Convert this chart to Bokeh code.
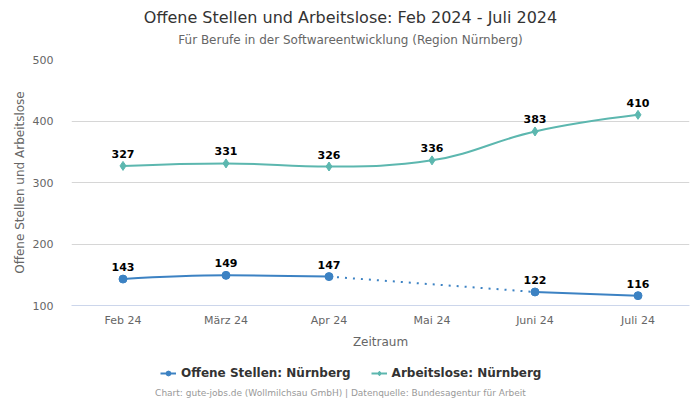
from bokeh.plotting import figure
from bokeh.models import (Range1d, FixedTicker, Legend, LegendItem, ColumnDataSource, Label)
from bokeh.layouts import column
from bokeh.embed import file_html
from bokeh.resources import INLINE
from bokeh.core.properties import value

months = ["Feb 24", "März 24", "Apr 24", "Mai 24", "Juni 24", "Juli 24"]
offene = [143, 149, 147, None, 122, 116]
arbeitslose = [327, 331, 326, 336, 383, 410]
y_ticks = [100, 200, 300, 400, 500]

BLUE = "#3c82c3"
TEAL = "#5cb7af"
FONT = "DejaVu Sans"
W = 700
LEFT = 71
RIGHT = 11
H0 = 50
H1 = 301
H2 = 49


def spline(xs, ys, s=1.5):
    n = len(xs)
    lc = [None] * n
    rc = [None] * n
    for i in range(1, n - 1):
        px, py = xs[i - 1], ys[i - 1]
        x, y = xs[i], ys[i]
        nx, ny = xs[i + 1], ys[i + 1]
        d = s + 1
        lcx, lcy = (s * x + px) / d, (s * y + py) / d
        rcx, rcy = (s * x + nx) / d, (s * y + ny) / d
        if rcx != lcx:
            corr = ((rcy - lcy) * (rcx - x)) / (rcx - lcx) + y - rcy
            lcy += corr
            rcy += corr
        if lcy > py and lcy > y:
            lcy = max(py, y); rcy = 2 * y - lcy
        elif lcy < py and lcy < y:
            lcy = min(py, y); rcy = 2 * y - lcy
        if rcy > ny and rcy > y:
            rcy = max(ny, y); lcy = 2 * y - rcy
        elif rcy < ny and rcy < y:
            rcy = min(ny, y); lcy = 2 * y - rcy
        lc[i] = (lcx, lcy)
        rc[i] = (rcx, rcy)
    out = dict(x0=[], y0=[], x1=[], y1=[], cx0=[], cy0=[], cx1=[], cy1=[])
    for i in range(1, n):
        c0 = rc[i - 1] or (xs[i - 1], ys[i - 1])
        c1 = lc[i] or (xs[i], ys[i])
        out["x0"].append(xs[i - 1]); out["y0"].append(ys[i - 1])
        out["x1"].append(xs[i]); out["y1"].append(ys[i])
        out["cx0"].append(c0[0]); out["cy0"].append(c0[1])
        out["cx1"].append(c1[0]); out["cy1"].append(c1[1])
    return out


def segments(vals):
    segs, cur = [], []
    for i, v in enumerate(vals):
        if v is None:
            if cur:
                segs.append(cur)
            cur = []
        else:
            cur.append(i)
    if cur:
        segs.append(cur)
    return segs


def blank_fig(h):
    # frame aligned with the chart frame; x data units equal page pixels
    f = figure(width=W, height=h, output_backend="svg", toolbar_location=None, title=None,
               x_range=Range1d(LEFT, W - RIGHT), y_range=Range1d(0, h),
               min_border_left=LEFT, min_border_right=RIGHT, min_border_top=0, min_border_bottom=0)
    f.axis.visible = False
    f.grid.visible = False
    f.outline_line_color = None
    f.background_fill_color = "white"
    f.border_fill_color = "white"
    return f


# ---- title figure
p0 = blank_fig(H0)
p0.add_layout(Label(x=W / 2, y=H0 - 17, text="Offene Stellen und Arbeitslose: Feb 2024 - Juli 2024",
                    text_align="center", text_baseline="middle", text_font=FONT,
                    text_font_size="16px", text_color="#333333"))
p0.add_layout(Label(x=W / 2, y=H0 - 39, text="Für Berufe in der Softwareentwicklung (Region Nürnberg)",
                    text_align="center", text_baseline="middle", text_font=FONT,
                    text_font_size="12px", text_color="#666666"))

# ---- main chart
p = figure(width=W, height=H1, output_backend="svg", toolbar_location=None,
           title=None, x_range=Range1d(-0.5, 5.5), y_range=Range1d(100, 500),
           min_border_left=LEFT, min_border_right=RIGHT, min_border_top=9, min_border_bottom=46)
p.outline_line_color = None
p.background_fill_color = "white"
p.border_fill_color = "white"

p.xaxis.ticker = FixedTicker(ticks=list(range(len(months))))
p.xaxis.major_label_overrides = {i: m for i, m in enumerate(months)}
p.xaxis.axis_line_color = "#ccd6eb"
p.xaxis.major_tick_line_color = None
p.xaxis.major_tick_out = 0
p.xaxis.major_tick_in = 0
p.xaxis.minor_tick_line_color = None
p.xaxis.major_label_text_font = FONT
p.xaxis.major_label_text_font_size = "11px"
p.xaxis.major_label_text_color = "#666666"
p.xaxis.major_label_standoff = 8
p.xaxis.axis_label = "Zeitraum"
p.xaxis.axis_label_text_font = FONT
p.xaxis.axis_label_text_font_size = "12px"
p.xaxis.axis_label_text_font_style = "normal"
p.xaxis.axis_label_text_color = "#666666"
p.xaxis.axis_label_standoff = 5

p.yaxis.ticker = FixedTicker(ticks=y_ticks)
p.yaxis.axis_line_color = None
p.yaxis.major_tick_line_color = None
p.yaxis.major_tick_out = 0
p.yaxis.major_tick_in = 0
p.yaxis.minor_tick_line_color = None
p.yaxis.major_label_text_font = FONT
p.yaxis.major_label_text_font_size = "11px"
p.yaxis.major_label_text_color = "#666666"
p.yaxis.major_label_standoff = 18
p.yaxis.axis_label = "Offene Stellen und Arbeitslose"
p.yaxis.axis_label_text_font = FONT
p.yaxis.axis_label_text_font_size = "12px"
p.yaxis.axis_label_text_font_style = "normal"
p.yaxis.axis_label_text_color = "#666666"
p.yaxis.axis_label_standoff = 3

p.xgrid.grid_line_color = None
p.ygrid.grid_line_color = "#d6d6d6"
p.ygrid.ticker = FixedTicker(ticks=y_ticks)

xs_all = list(range(len(months)))
p.bezier(source=ColumnDataSource(spline(xs_all, arbeitslose)), x0="x0", y0="y0", x1="x1", y1="y1",
         cx0="cx0", cy0="cy0", cx1="cx1", cy1="cy1", line_color=TEAL, line_width=2)
p.scatter(xs_all, arbeitslose, marker="diamond", size=9, fill_color=TEAL, line_color=TEAL)

segs = segments(offene)
for seg in segs:
    if len(seg) > 1:
        p.bezier(source=ColumnDataSource(spline(seg, [offene[i] for i in seg])), x0="x0", y0="y0",
                 x1="x1", y1="y1", cx0="cx0", cy0="cy0", cx1="cx1", cy1="cy1",
                 line_color=BLUE, line_width=2)
for a, b in zip(segs[:-1], segs[1:]):
    p.line([a[-1], b[0]], [offene[a[-1]], offene[b[0]]], line_color=BLUE, line_width=2,
           line_dash="2 6")
bx = [i for i, v in enumerate(offene) if v is not None]
by = [offene[i] for i in bx]
p.scatter(bx, by, marker="circle", size=8, fill_color=BLUE, line_color=BLUE)

for xs_, ys_ in ((xs_all, arbeitslose), (bx, by)):
    p.text(x=xs_, y=ys_, text=[str(v) for v in ys_], text_font=value(FONT),
           text_font_size="11px", text_font_style="bold", text_color="#000000",
           text_align="center", text_baseline="middle", y_offset=-12)

# ---- legend + credits
p2 = blank_fig(H2)
nan = float("nan")
bl = p2.line([nan], [nan], line_color=BLUE, line_width=2)
bs = p2.scatter([nan], [nan], marker="circle", size=8, fill_color=BLUE, line_color=BLUE)
tl = p2.line([nan], [nan], line_color=TEAL, line_width=2)
ts = p2.scatter([nan], [nan], marker="diamond", size=9, fill_color=TEAL, line_color=TEAL)
legend = Legend(items=[LegendItem(label="Offene Stellen: Nürnberg", renderers=[bl, bs]),
                       LegendItem(label="Arbeitslose: Nürnberg", renderers=[tl, ts])],
                orientation="horizontal", location=(160 - LEFT, 20),
                label_text_font=FONT, label_text_font_size="12px", label_text_font_style="bold",
                label_text_color="#333333", glyph_width=16, glyph_height=12, spacing=20,
                label_standoff=5, border_line_color=None, background_fill_alpha=0,
                padding=0, margin=0)
p2.add_layout(legend)
p2.add_layout(Label(x=340, y=H2 - 41,
                    text="Chart: gute-jobs.de (Wollmilchsau GmbH) | Datenquelle: Bundesagentur für Arbeit",
                    text_align="center", text_baseline="middle", text_font=FONT,
                    text_font_size="9px", text_color="#999999"))

open("out.html", "w").write(file_html(column(p0, p, p2, spacing=0), INLINE))
